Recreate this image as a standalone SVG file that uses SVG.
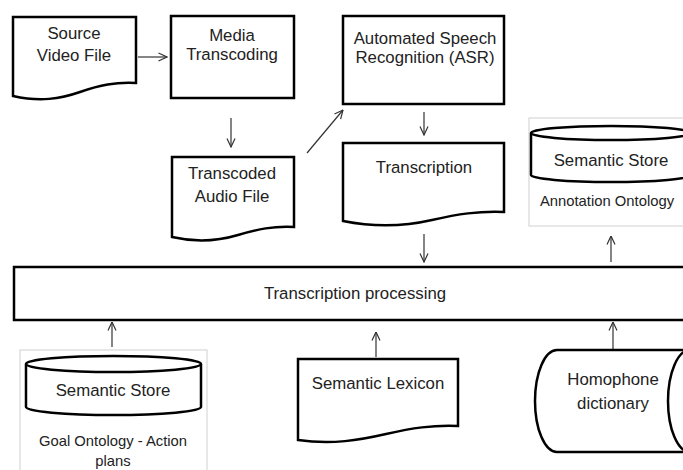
<svg xmlns="http://www.w3.org/2000/svg" width="683" height="470" viewBox="0 0 683 470">
<defs>
<style>
.n{fill:#fff;stroke:#000;stroke-width:2.5;stroke-linejoin:miter}
.box{fill:#fff;stroke:#d0d0d0;stroke-width:1}
.t{font-family:"Liberation Sans",Arial,sans-serif;font-size:16.8px;fill:#222;text-anchor:middle}
.s{font-family:"Liberation Sans",Arial,sans-serif;font-size:14.8px;fill:#222;text-anchor:middle}
.c{stroke:#333;stroke-width:1.2;fill:none;marker-end:url(#ah)}
</style>
<marker id="ah" viewBox="0 0 10 10" refX="9.5" refY="5" markerWidth="10" markerHeight="10" markerUnits="userSpaceOnUse" orient="auto">
<path d="M1,1 L9.5,5 L1,9" fill="none" stroke="#333" stroke-width="1.2"/>
</marker>
</defs>
<rect width="683" height="470" fill="#fff"/>

<g id="connectors">
<line class="c" x1="138" y1="57" x2="167" y2="57"/>
<line class="c" x1="231" y1="118" x2="231" y2="147"/>
<line class="c" x1="307" y1="153" x2="343" y2="110"/>
<line class="c" x1="424" y1="112" x2="424" y2="135"/>
<line class="c" x1="424" y1="234" x2="424" y2="262"/>
<line class="c" x1="611" y1="262" x2="611" y2="236"/>
<line class="c" x1="112" y1="347" x2="112" y2="322"/>
<line class="c" x1="376" y1="357" x2="376" y2="332"/>
<line class="c" x1="613" y1="350" x2="613" y2="322"/>
</g>

<g id="source-video">
<path class="n" d="M13,17 H136 V83 C115,82 100,85 80,92 C60,99 40,102 13,96 Z"/>
<text class="t" x="74" y="39">Source</text>
<text class="t" x="74" y="61">Video File</text>
</g>

<g id="media-transcoding">
<rect class="n" x="171" y="16" width="123" height="82"/>
<text class="t" x="232" y="41">Media</text>
<text class="t" x="232" y="60">Transcoding</text>
</g>

<g id="transcoded-audio">
<path class="n" d="M172,157 H294 V227 C273,226 258,229 238,235 C218,241 198,243 172,237 Z"/>
<text class="t" x="232" y="179">Transcoded</text>
<text class="t" x="232" y="202">Audio File</text>
</g>

<g id="asr">
<rect class="n" x="343" y="16" width="161" height="88"/>
<text class="t" x="425" y="44">Automated Speech</text>
<text class="t" x="425" y="63">Recognition (ASR)</text>
</g>

<g id="transcription">
<path class="n" d="M343,143 H504 V212 C478,211 458,214 432,220 C406,226 378,228 343,221 Z"/>
<text class="t" x="424" y="173">Transcription</text>
</g>

<g id="annotation-store">
<rect class="box" x="529" y="118" width="164" height="108"/>
<path class="n" d="M531,133 A80,7 0 0 1 691,133 V175 A80,7 0 0 1 531,175 Z"/>
<path class="n" d="M531,133 A80,7 0 0 0 691,133" fill="none"/>
<text class="t" x="611" y="166">Semantic Store</text>
<text class="s" x="607" y="206">Annotation Ontology</text>
</g>

<g id="transcription-processing">
<rect class="n" x="14" y="267" width="680" height="53"/>
<text class="t" x="355" y="299">Transcription processing</text>
</g>

<g id="goal-store">
<rect class="box" x="20" y="350" width="187" height="130"/>
<path class="n" d="M26,364 A87.5,8 0 0 1 201,364 V407 A87.5,8 0 0 1 26,407 Z"/>
<path class="n" d="M26,364 A87.5,8 0 0 0 201,364" fill="none"/>
<text class="t" x="113" y="396">Semantic Store</text>
<text class="s" x="113" y="446">Goal Ontology - Action</text>
<text class="s" x="113" y="466">plans</text>
</g>

<g id="semantic-lexicon">
<path class="n" d="M298,359 H458 V426 C432,425 412,428 386,434 C360,440 332,445 298,440 Z"/>
<text class="t" x="378" y="389">Semantic Lexicon</text>
</g>

<g id="homophone-dictionary">
<path class="n" d="M557,350 H690 A22,51 0 0 1 690,452 H557 A22,51 0 0 1 557,350 Z"/>
<path class="n" d="M690,350 A22,51 0 0 0 690,452" fill="none"/>
<text class="t" x="613" y="385">Homophone</text>
<text class="t" x="613" y="409">dictionary</text>
</g>
</svg>
